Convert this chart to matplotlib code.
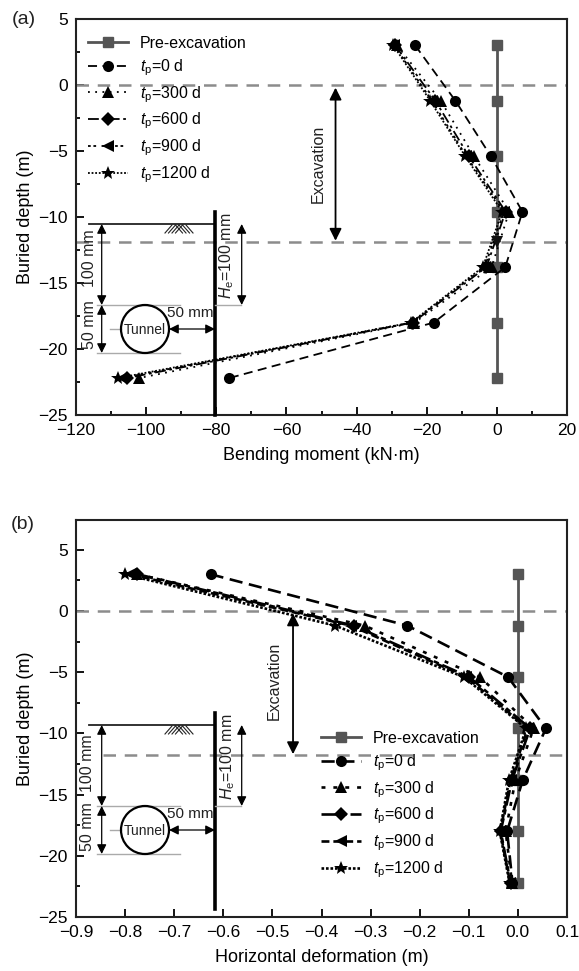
"""Bending moment and horizontal deformation of the wall against buried depth"""

import matplotlib
matplotlib.use('Agg')
import matplotlib.pyplot as plt
from matplotlib.patches import Circle
from matplotlib.ticker import MultipleLocator
from matplotlib.transforms import Affine2D

plt.rcParams['font.family'] = ['Liberation Sans', 'DejaVu Sans']
plt.rcParams['mathtext.fontset'] = 'custom'
plt.rcParams['mathtext.rm'] = 'Liberation Sans'
plt.rcParams['mathtext.it'] = 'Liberation Sans:italic'
plt.rcParams['font.size'] = 12

W, H = 579, 971

depth = [3, -1.2, -5.4, -9.6, -13.8, -18, -22.2]
labels = ['Pre-excavation', r'$t_{\mathrm{p}}$=0 d', r'$t_{\mathrm{p}}$=300 d',
          r'$t_{\mathrm{p}}$=600 d', r'$t_{\mathrm{p}}$=900 d', r'$t_{\mathrm{p}}$=1200 d']

pre_moment = [0, 0, 0, 0, 0, 0, 0]
moment_0 = [-23.3, -11.8, -1.7, 7.3, 2.4, -18, -76.3]
moment_300 = [-28.5, -16, -6.5, 3.5, -1.5, -23.5, -102]
moment_600 = [-29, -17.5, -8, 2.5, -3, -24, -105.5]
moment_900 = [-29.3, -18.5, -8.7, 2, -3.5, -24.3, -107]
moment_1200 = [-29.5, -19, -9, 1.5, -4, -24.5, -108]

pre_deform = [0, 0, 0, 0, 0, 0, 0]
deform_0 = [-0.626, -0.225, -0.02, 0.057, 0.01, -0.022, -0.011]
deform_300 = [-0.775, -0.312, -0.077, 0.032, -0.005, -0.025, -0.012]
deform_600 = [-0.775, -0.334, -0.099, 0.025, -0.012, -0.035, -0.015]
deform_900 = [-0.79, -0.34, -0.105, 0.02, -0.015, -0.036, -0.016]
deform_1200 = [-0.80, -0.372, -0.11, 0.017, -0.018, -0.037, -0.017]

markers = ['o', '^', 'D', '<', '*']
sizes = [8, 8, 7, 8, 10]
styles_a = [(0, (5, 3)), (0, (1, 3)), (0, (6, 2, 1.5, 2)), (0, (1.5, 1.5, 1.5, 3)), (0, (1, 1))]
styles_b = [(0, (5, 2.5)), (0, (1.5, 3)), (0, (6, 1.5, 2, 1.5)), (0, (3, 1.5)), (0, (1, 0.7))]

# pixels of the image, y going down
pixels = Affine2D().scale(1, -1).translate(0, H)


def make_axes(fig, left, top, right, bottom):
    return fig.add_axes([left / W, 1 - bottom / H, (right - left) / W, (bottom - top) / H])


def draw_panel(ax, pre, series, styles, lw, excav, legend_xy):
    ax.plot(pre, depth, color='#555555', lw=2, marker='s', ms=6.5, label=labels[0], zorder=3)
    for vals, m, ms, ls, lab in zip(series, markers, sizes, styles, labels[1:]):
        ax.plot(vals, depth, color='black', lw=lw, ls=ls, marker=m, ms=ms, mew=0, label=lab, zorder=4)

    for y in excav['lines']:
        ax.axhline(y, xmin=excav['line_start'] if y < 0 else 0, color='#8c8c8c', lw=1.8,
                   ls=(0, (5, 3.5)), zorder=2)
    ax.annotate('', xy=(excav['x'], -0.2), xytext=(excav['x'], excav['lines'][1] + 0.1),
                arrowprops=dict(arrowstyle='<|-|>', color='black', lw=1.3, mutation_scale=18,
                                shrinkA=0, shrinkB=0), zorder=5)
    ax.text(excav['text_x'], excav['text_y'], 'Excavation', rotation=90, ha='center', va='center',
            fontsize=11.5, color='#222222')

    ax.xaxis.set_minor_locator(MultipleLocator(excav['minor_x']))
    ax.yaxis.set_major_locator(MultipleLocator(5))
    ax.yaxis.set_minor_locator(MultipleLocator(2.5))
    ax.tick_params(which='major', direction='in', length=6, width=1.3, labelsize=12.5, pad=6)
    ax.tick_params(which='minor', direction='in', length=3, width=1.3)
    for side in ax.spines:
        ax.spines[side].set_linewidth(1.5)
        ax.spines[side].set_color('#222222')

    ax.legend(loc='upper left', bbox_to_anchor=legend_xy, bbox_transform=pixels, frameon=False,
              fontsize=11.5, handlelength=2.5, handletextpad=0.75, labelspacing=0.39,
              borderpad=0, borderaxespad=0)


def draw_sketch(ax, top, wall_top, wall_bottom, text_100, text_50, text_he):
    """Little wall and tunnel drawing, all numbers in image pixels"""
    kw = dict(transform=pixels, clip_on=False, zorder=6)
    mid = top + 81
    low = top + 129
    ax.plot([89, 215], [top, top], color='#222222', lw=1.3, **kw)
    ax.plot([215, 215], [wall_top, wall_bottom], color='black', lw=2.6, **kw)
    for dx in (-7, -3.5, 0, 3.5):
        ax.plot([172 + dx, 179 + dx], [top + 9, top + 1], color='#222222', lw=0.8, **kw)
        ax.plot([172 - dx + 7, 179 - dx + 7], [top + 1, top + 9], color='#222222', lw=0.8, **kw)
    for y in (mid, low):
        ax.plot([97, 180], [y, y], color='#aaaaaa', lw=1, **kw)
    ax.plot([110, 121], [top + 105, top + 105], color='#aaaaaa', lw=1, **kw)
    ax.plot([215, 241], [mid, mid], color='#aaaaaa', lw=1, **kw)
    ax.add_patch(Circle((145, top + 105), 24, fill=False, ec='black', lw=1.6, **kw))

    arrow = dict(arrowstyle='<|-|>', color='black', lw=0.9, mutation_scale=14, shrinkA=0, shrinkB=0)
    for start, end in [((101.7, top), (101.7, mid)), ((101.7, mid), (101.7, low)),
                       ((241.7, top), (241.7, mid)), ((169, top + 105), (215, top + 105))]:
        ax.annotate('', xy=start, xytext=end, xycoords=pixels, textcoords=pixels,
                    arrowprops=arrow, annotation_clip=False, zorder=6)

    tkw = dict(transform=pixels, ha='center', va='center', color='#222222', zorder=7)
    ax.text(145, top + 106, 'Tunnel', fontsize=10, **tkw)
    ax.text(190, top + 89, '50 mm', fontsize=11, **tkw)
    ax.text(text_100[0], text_100[1], '100 mm', fontsize=11.5, rotation=90, **tkw)
    ax.text(text_50[0], text_50[1], '50 mm', fontsize=11.5, rotation=90, **tkw)
    ax.text(text_he[0], text_he[1], r'$H_{\mathrm{e}}$=100 mm', fontsize=11.5, rotation=90, **tkw)


fig = plt.figure(figsize=(W / 100, H / 100), dpi=100)

ax_a = make_axes(fig, 76, 19, 567, 415)
ax_a.set_xlim(-120, 20)
ax_a.set_ylim(-25, 5)
draw_panel(ax_a, pre_moment, [moment_0, moment_300, moment_600, moment_900, moment_1200], styles_a, 1.3,
           dict(lines=[0, -11.9], line_start=0, x=-46, text_x=-51, text_y=-6, minor_x=10), (88, 36))
# the markers sitting on the lower excavation line at zero moment
ax_a.plot([0], [-11.9], color='#111111', marker='v', ms=8, mew=0, ls='none', zorder=5)
ax_a.set_xlabel('Bending moment (kN·m)', fontsize=13, labelpad=6)
ax_a.set_ylabel('Buried depth (m)', fontsize=13, labelpad=3)
draw_sketch(ax_a, 224, 212, 415, (90, 258), (89, 325), (227, 256))

ax_b = make_axes(fig, 76, 520, 567, 917)
ax_b.set_xlim(-0.9, 0.1)
ax_b.set_ylim(-25, 7.43)
draw_panel(ax_b, pre_deform, [deform_0, deform_300, deform_600, deform_900, deform_1200], styles_b, 1.9,
           dict(lines=[0, -11.8], line_start=0.055, x=-0.458, text_x=-0.497, text_y=-5.7, minor_x=0.1), (321, 731))
ax_b.set_xticks([-0.9, -0.8, -0.7, -0.6, -0.5, -0.4, -0.3, -0.2, -0.1, 0.0, 0.1])
ax_b.set_xlabel('Horizontal deformation (m)', fontsize=13, labelpad=6)
ax_b.set_ylabel('Buried depth (m)', fontsize=13, labelpad=3)
draw_sketch(ax_b, 725, 713, 909, (87, 763), (87, 827), (228, 757))

fig.text(12 / W, 1 - 20 / H, '(a)', fontsize=14, va='center', color='#222222')
fig.text(11 / W, 1 - 524 / H, '(b)', fontsize=14, va='center', color='#222222')

fig.savefig('out.png', dpi=100)
